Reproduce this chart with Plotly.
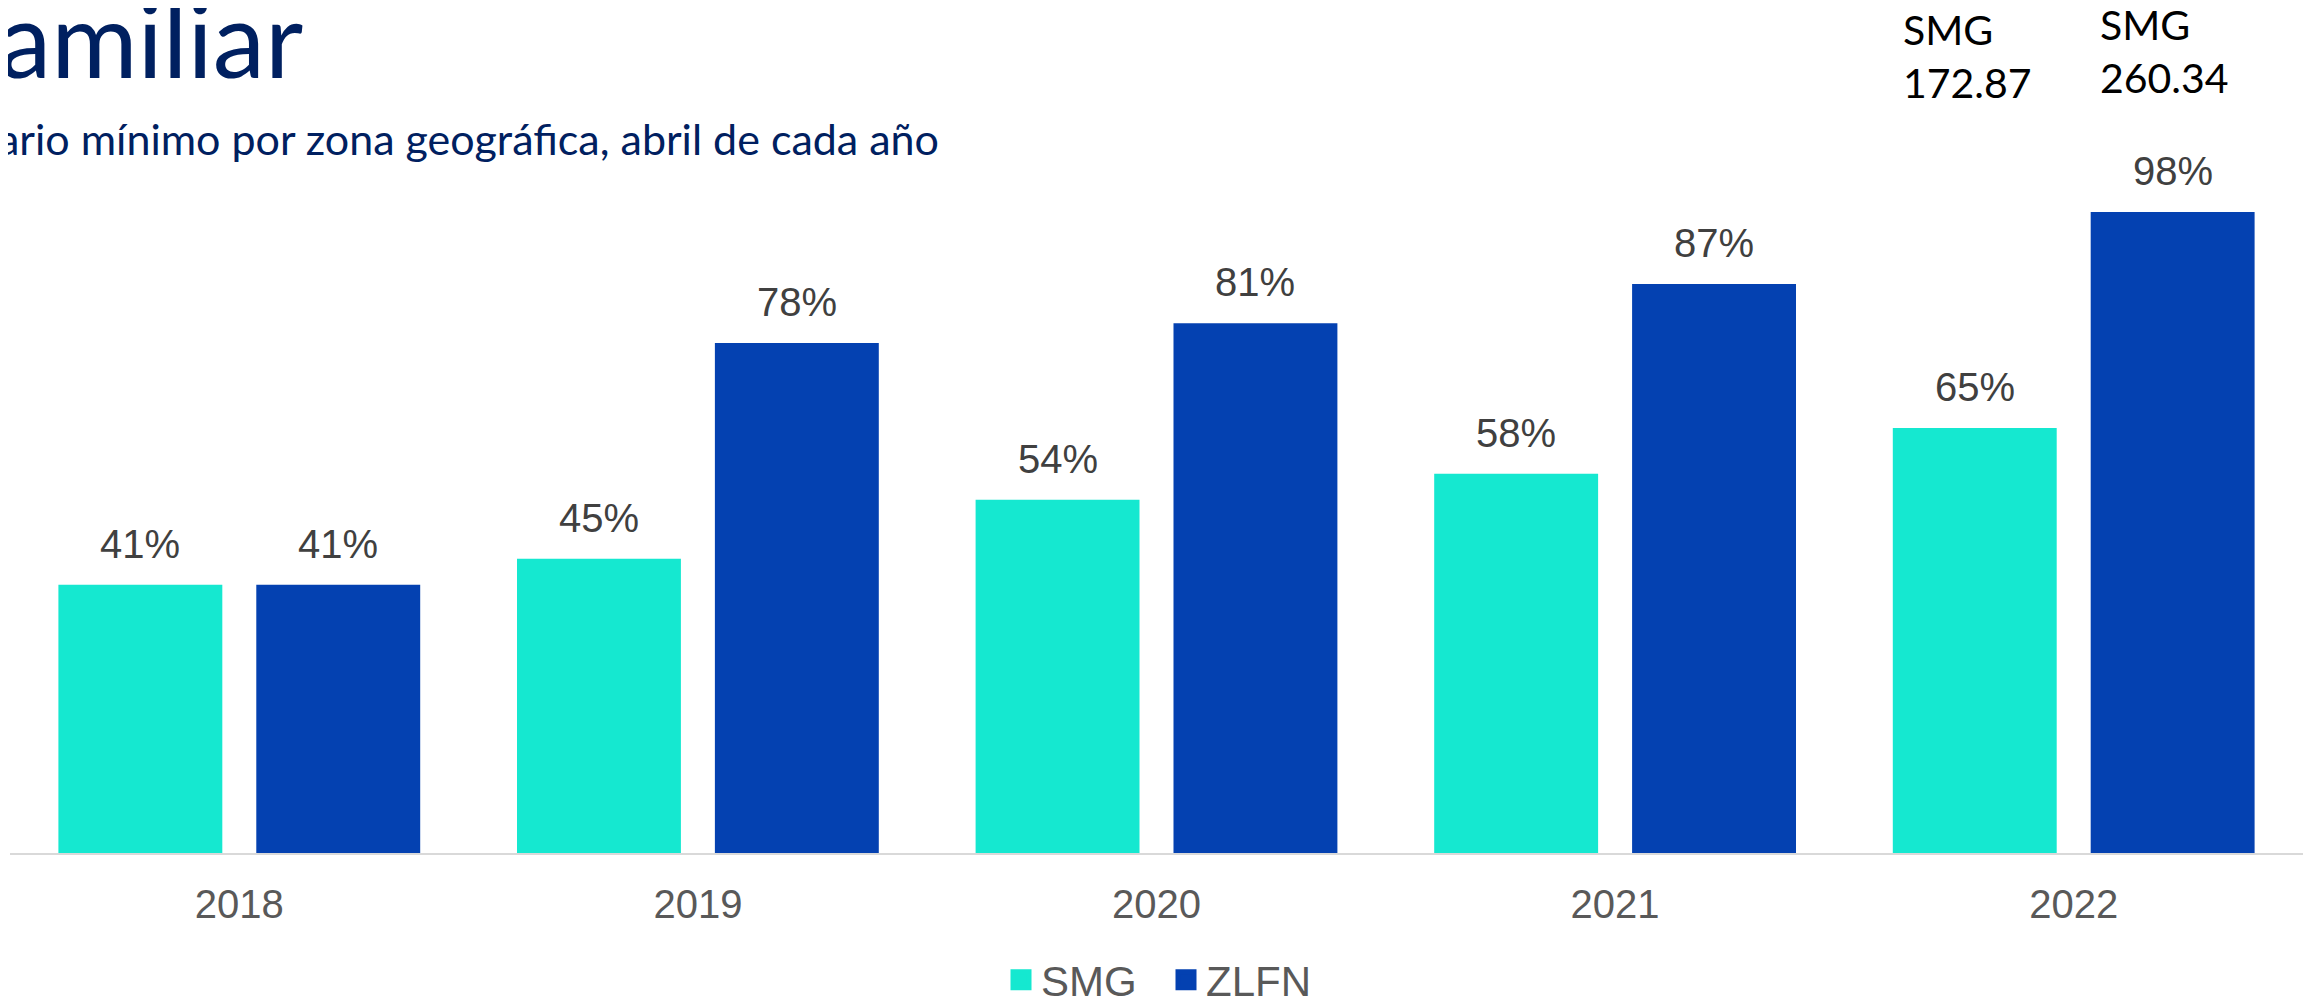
import plotly.graph_objects as go

# ---- data ----
years = ["2018", "2019", "2020", "2021", "2022"]
smg = [41, 45, 54, 58, 65]
zlfn = [41, 78, 81, 87, 98]
series_names = ["SMG", "ZLFN"]
note_labels = ["SMG<br>172.87", "SMG<br>260.34"]

title_text = "amiliar"
subtitle_text = "ario mínimo por zona geográfica, abril de cada año"

# ---- style ----
PAGE_W, PAGE_H = 2315, 1000
OFF = 8  # default body margin of the html page
W, H = PAGE_W - OFF, PAGE_H - OFF
# plot area in page pixels: x 10..2303, y 199..853
M_L, M_R, M_T, M_B = 10 - OFF, 12, 199 - OFF, 147
C_SMG = "#15E8D0"
C_ZLFN = "#0441B1"
NAVY = "#002060"
BARGAP = 0.137
GROUPGAP = 0.1717
LBL_FONT = dict(family="Liberation Sans, Arial, sans-serif", size=40, color="#404040")

plot_w = W - M_L - M_R
plot_h = H - M_T - M_B
cat_w = plot_w / len(years)
slot_w = cat_w * (1 - BARGAP) / 2
shift = slot_w / 2

fig = go.Figure()
for name, vals, col in [(series_names[0], smg, C_SMG), (series_names[1], zlfn, C_ZLFN)]:
    fig.add_trace(go.Bar(x=years, y=vals, name=name, marker=dict(color=col, line=dict(width=0)),
                         showlegend=False, hoverinfo="x+y"))
for name, col in [(series_names[0], C_SMG), (series_names[1], C_ZLFN)]:
    # legend proxy with square swatch (no visible point)
    fig.add_trace(go.Scatter(x=[years[0]], y=[None], mode="markers", name=name,
                             marker=dict(symbol="square", size=24, color=col,
                                         line=dict(color=col, width=6)),
                             showlegend=True, hoverinfo="skip"))

# value labels above bars (x given as category index)
for vals, sgn in [(smg, -1), (zlfn, 1)]:
    for i, v in enumerate(vals):
        fig.add_annotation(x=i, y=v, xref="x", yref="y", text=f"{v}%", showarrow=False,
                           xanchor="center", yanchor="bottom", xshift=sgn * shift, yshift=17,
                           font=LBL_FONT)

# helpers: page pixel -> paper coordinate
def px_x(px):
    return (px - OFF - M_L) / plot_w

def px_y(py):
    return (H - M_B - (py - OFF)) / plot_h

# title and subtitle (cropped at left edge as in the reference)
fig.add_annotation(xref="paper", yref="paper", x=px_x(-3), y=px_y(102),
                   xanchor="left", yanchor="bottom", text=title_text, showarrow=False,
                   font=dict(family="Lato, sans-serif", size=105, color=NAVY))
fig.add_annotation(xref="paper", yref="paper", x=px_x(-4), y=px_y(166),
                   xanchor="left", yanchor="bottom", text=subtitle_text, showarrow=False,
                   font=dict(family="Lato, sans-serif", size=43, color=NAVY))

# SMG notes at top right
for txt, px, py in zip(note_labels, [1901, 2098], [3, -2]):
    fig.add_annotation(xref="paper", yref="paper", x=px_x(px), y=px_y(py),
                       xanchor="left", yanchor="top", align="left", text=txt, showarrow=False,
                       font=dict(family="Lato, sans-serif", size=41, color="#000000"))

fig.update_layout(
    width=W, height=H,
    margin=dict(l=M_L, r=M_R, t=M_T, b=M_B),
    paper_bgcolor="white", plot_bgcolor="white",
    barmode="group", bargap=BARGAP, bargroupgap=GROUPGAP,
    showlegend=True,
    legend=dict(orientation="h", xref="paper", yref="container",
                x=px_x(1001), xanchor="left",
                y=1 - (980 - OFF) / H, yanchor="middle",
                entrywidth=120, entrywidthmode="pixels",
                font=dict(family="Liberation Sans, Arial, sans-serif", size=42, color="#595959"),
                traceorder="normal"),
    xaxis=dict(type="category", range=[-0.5, len(years) - 0.5], showgrid=False, showline=True,
               linecolor="#D9D9D9", linewidth=2, ticks="", automargin=False,
               tickfont=dict(family="Liberation Sans, Arial, sans-serif", size=40, color="#595959"),
               ticklabelstandoff=15),
    yaxis=dict(range=[0, 100], visible=False, showgrid=False, zeroline=False, automargin=False),
)

fig.write_html("out.html")
